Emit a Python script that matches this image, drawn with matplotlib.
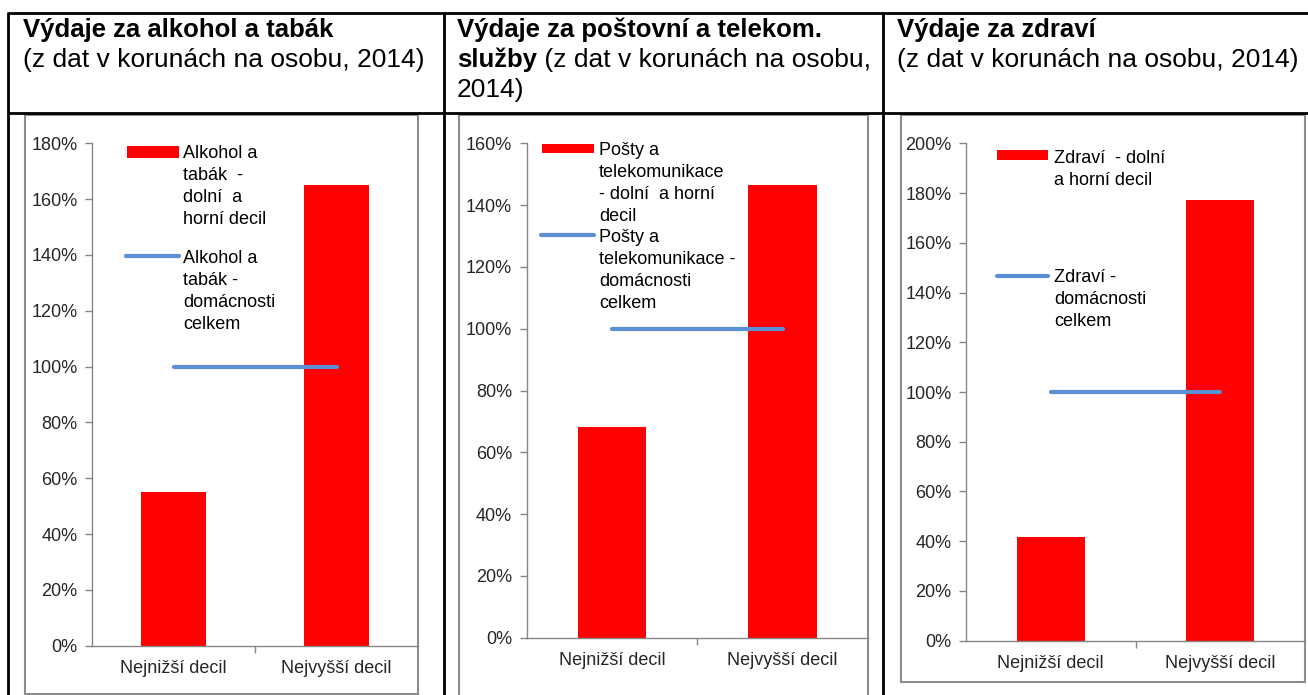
import numpy as np
import matplotlib
matplotlib.use('Agg')
import matplotlib.pyplot as plt
from matplotlib.patches import Rectangle
from matplotlib.ticker import PercentFormatter

plt.rcParams['font.family'] = ['Liberation Sans', 'DejaVu Sans']

W, H = 1308, 695

# data
categories = ['Nejnižší decil', 'Nejvyšší decil']
alkohol = [0.55, 1.651]
posty = [0.682, 1.465]
zdravi = [0.418, 1.772]
celkem = [1.0, 1.0]

headers_bold = ['Výdaje za alkohol a tabák', 'Výdaje za poštovní a telekom.', 'Výdaje za zdraví']
sub_text = '(z dat v korunách na osobu, 2014)'

leg_bar = [['Alkohol a', 'tabák  -', 'dolní  a', 'horní decil'],
           ['Pošty a', 'telekomunikace', '- dolní  a horní', 'decil'],
           ['Zdraví  - dolní', 'a horní decil']]
leg_line = [['Alkohol a', 'tabák -', 'domácnosti', 'celkem'],
            ['Pošty a', 'telekomunikace -', 'domácnosti', 'celkem'],
            ['Zdraví -', 'domácnosti', 'celkem']]

RED = '#ff0000'
BLUE = '#5b8fd6'
AXC = '#868686'

fig = plt.figure(figsize=(W / 100, H / 100), dpi=100)
bg = fig.add_axes([0, 0, 1, 1])
bg.set_xlim(0, W)
bg.set_ylim(H, 0)
bg.axis('off')

# table grid
tl = dict(color='black', lw=2, solid_capstyle='butt')
bg.plot([7.5, W], [12.7, 12.7], **tl)
bg.plot([7.5, W], [112.7, 112.7], **tl)
for xv in [7.5, 444, 883]:
    bg.plot([xv, xv], [11.7, H], **tl)

# header texts
hs = 19
b1, b2, b3 = 37.5, 67.5, 97.5
bg.text(23, b1, headers_bold[0], fontsize=18.5, weight='bold', va='baseline')
bg.text(23, b2, sub_text, fontsize=hs, va='baseline')
bg.text(457, b1, headers_bold[1], fontsize=18.5, weight='bold', va='baseline')
t = bg.text(457, b2, 'služby', fontsize=18.5, weight='bold', va='baseline')
bb = t.get_window_extent(fig.canvas.get_renderer())
bg.text(bb.x1, b2, ' (z dat v korunách na osobu,', fontsize=hs, va='baseline')
bg.text(457, b3, '2014)', fontsize=hs, va='baseline')
bg.text(897, b1, headers_bold[2], fontsize=18.5, weight='bold', va='baseline')
bg.text(897, b2, sub_text, fontsize=hs, va='baseline')


def add_ax(left, top, right, bottom):
    return fig.add_axes([left / W, 1 - bottom / H, (right - left) / W, (bottom - top) / H])


def lines_text(x, y, lines, step=22):
    for k, s in enumerate(lines):
        bg.text(x, y + k * step, s, fontsize=13, va='baseline')


def chart(i, box, frame, vals, ymax, leg):
    fx0, fy0, fx1, fy1 = frame
    bg.add_patch(Rectangle((fx0, fy0), fx1 - fx0, fy1 - fy0, fill=False, ec='#8c8c8c', lw=1.5))
    ax = add_ax(*box)
    ax.set_facecolor('none')
    x = np.arange(len(categories))
    ax.bar(x, vals, width=0.4, color=RED)
    ax.plot(x, celkem, color=BLUE, lw=3, solid_capstyle='round')
    ax.set_xlim(-0.5, 1.5)
    ax.set_ylim(0, ymax)
    ax.set_yticks(np.arange(0, ymax + 0.01, 0.2))
    ax.yaxis.set_major_formatter(PercentFormatter(1.0, decimals=0))
    ax.set_xticks(x, categories)
    ax.set_xticks([0.5], minor=True)
    ax.tick_params(axis='x', which='major', length=0, pad=10, labelsize=13, labelcolor='#262626')
    ax.tick_params(axis='x', which='minor', length=5, width=1, color=AXC, direction='out')
    ax.tick_params(axis='y', length=5, width=1, color=AXC, pad=5.5, labelsize=13, labelcolor='#262626')
    for s in ['top', 'right']:
        ax.spines[s].set_visible(False)
    for s in ['left', 'bottom']:
        ax.spines[s].set_color(AXC)
        ax.spines[s].set_linewidth(1)

    # legend drawn by hand to keep the Excel-like wrapping
    (rx0, rx1, ry0, ry1, tx, ty1), (lx0, lx1, ly, ty2) = leg
    bg.add_patch(Rectangle((rx0, ry0), rx1 - rx0, ry1 - ry0, color=RED, lw=0))
    lines_text(tx, ty1, leg_bar[i])
    bg.plot([lx0, lx1], [ly, ly], color=BLUE, lw=3, solid_capstyle='round')
    lines_text(tx, ty2, leg_line[i])


chart(0, (92, 143.3, 418, 645.7), (25, 115, 418, 694), alkohol, 1.8,
      ((127, 179, 146, 158.3, 183, 158.3), (126, 179, 255.7, 262.7)))
chart(1, (526.5, 143.3, 868, 637.7), (459, 115, 868, 700), posty, 1.6,
      ((541.7, 594, 144.3, 153.3, 599, 155), (541, 594, 235, 241.7)))
chart(2, (966, 143.3, 1305, 640.7), (901, 115, 1305, 682), zdravi, 2.0,
      ((997.3, 1048.3, 150, 160, 1054, 162.7), (997, 1048, 275.7, 281.7)))

fig.savefig('out.png', dpi=100)
